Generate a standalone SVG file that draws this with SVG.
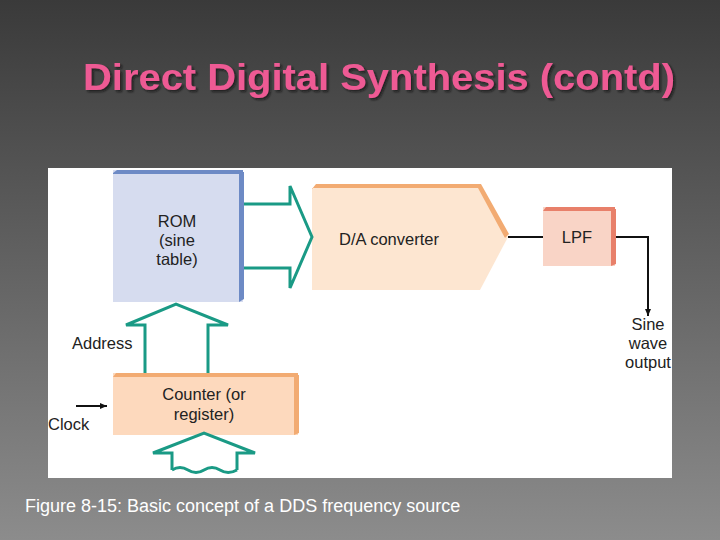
<svg xmlns="http://www.w3.org/2000/svg" width="720" height="540" viewBox="0 0 720 540">
<defs>
<linearGradient id="bg" x1="0" y1="0" x2="0" y2="1"><stop offset="0" stop-color="#3a3a3a"/><stop offset="1" stop-color="#8c8c8c"/></linearGradient>
<filter id="sh" x="-5%" y="-20%" width="110%" height="140%"><feDropShadow dx="2" dy="2" stdDeviation="1" flood-color="#111" flood-opacity="0.7"/></filter>
<marker id="ah" markerWidth="8" markerHeight="8" refX="7" refY="4" orient="auto" markerUnits="userSpaceOnUse"><path d="M0,1 L7,4 L0,7 Z" fill="#111"/></marker>
<style>
text{font-family:"Liberation Sans",Arial,sans-serif;fill:#222;font-size:16.5px}
.c{text-anchor:middle}
.teal{fill:none;stroke:#1a9a85;stroke-width:3;stroke-linejoin:miter}
.wire{fill:none;stroke:#111;stroke-width:2}
</style>
</defs>
<rect width="720" height="540" fill="url(#bg)"/>
<text x="83" y="90" textLength="592" lengthAdjust="spacingAndGlyphs" filter="url(#sh)" style="font-size:36px;font-weight:bold;fill:#ee5a94">Direct Digital Synthesis (contd)</text>
<rect x="48" y="168" width="624" height="310" fill="#fff"/>
<g id="rom">
<rect x="113" y="170" width="130" height="132" fill="#d6dcef"/>
<path d="M113,173 L117,170 L243,170 L243,174 L113,174 Z" fill="#6d8ac5"/>
<path d="M239,172 L244,172 L244,299 L239,302 Z" fill="#6d8ac5"/>
<text x="177" y="227" class="c">ROM</text><text x="177" y="246" class="c">(sine</text><text x="177" y="265" class="c">table)</text>
</g>
<g id="dac">
<path d="M312,188 L480,188 L508,237 L480,290 L312,290 Z" fill="#fde6d1"/>
<path d="M312,189 L316,184 L481,184 L509,234 L505,238 L478,188 L312,188 Z" fill="#f2ab72"/>
<text x="389" y="245" class="c">D/A converter</text>
</g>
<g id="lpf">
<rect x="543" y="207" width="72" height="59" fill="#f9d4c6"/>
<path d="M543,211 L546,207 L615,207 L615,211 Z" fill="#e8806a"/>
<path d="M611,209 L616,209 L616,264 L611,266 Z" fill="#e8806a"/>
<text x="577" y="243" class="c">LPF</text>
</g>
<g id="counter">
<rect x="113" y="373" width="185" height="62" fill="#fdd9bd"/>
<path d="M113,377 L116,373 L298,373 L298,377 Z" fill="#f2ab72"/>
<path d="M294,375 L299,375 L299,433 L294,435 Z" fill="#f2ab72"/>
<text x="204" y="400" class="c">Counter (or</text><text x="204" y="420" class="c">register)</text>
</g>
<g id="labels">
<text x="72" y="349">Address</text>
<text x="48" y="430">Clock</text>
<text x="648" y="330" class="c">Sine</text><text x="648" y="349" class="c">wave</text><text x="648" y="368" class="c">output</text>
</g>
<g id="connectors">
<path class="teal" d="M244,204 L290,204 L290,186 L312,237 L290,288 L290,268 L244,268"/>
<path class="teal" d="M145,373 L145,325 L126,325 L176,304 L228,325 L208,325 L208,373"/>
<path class="teal" d="M172,470 L172,453 L153,453 L204,433 L255,453 L237,453 L237,470"/>
<path class="teal" d="M172,470 q8,-5 16,0 t16,0 t16,0 t17,0" stroke-width="2"/>
<path class="wire" d="M508,237 L543,237"/>
<path class="wire" d="M616,237 L648,237 L648,316" marker-end="url(#ah)"/>
<path class="wire" d="M76,406 L107,406" marker-end="url(#ah)"/>
</g>
<text x="25" y="512" style="fill:#fff;font-size:18px">Figure 8-15: Basic concept of a DDS frequency source</text>
</svg>
